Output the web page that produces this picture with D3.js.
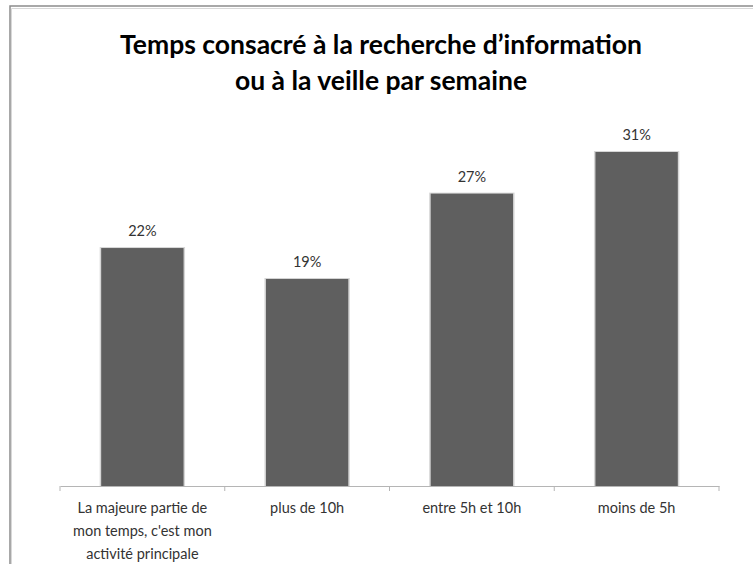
<!DOCTYPE html>
<html>
<head>
<meta charset="utf-8">
<script src="https://cdn.jsdelivr.net/npm/d3@7"></script>
<style>
  body { margin: 0; background: #fff; }
  text { font-family: Lato, "Open Sans", sans-serif; }
</style>
</head>
<body>
<script>
// data (labels are rounded percentages)
let categories = ["La majeure partie de mon temps, c'est mon activité principale", "plus de 10h", "entre 5h et 10h", "moins de 5h"];
let catLines = [["La majeure partie de", "mon temps, c'est mon", "activité principale"], ["plus de 10h"], ["entre 5h et 10h"], ["moins de 5h"]];
let values = [22.3, 19.4, 27.4, 31.3];
let titleLines = ["Temps consacré à la recherche d’information", "ou à la veille par semaine"];

let width = 753, height = 564;
let svg = d3.select("body").append("svg")
    .attr("width", width)
    .attr("height", height);

// frame of the chart area (cut on right and bottom)
svg.append("rect")
    .attr("x", 10).attr("y", 6)
    .attr("width", 800).attr("height", 700)
    .attr("fill", "#fff")
    .attr("stroke", "#8c8c8c")
    .attr("stroke-width", 1.5);
svg.append("path")
    .attr("d", "M11.5,8.5H760M11.5,8.5V600")
    .attr("stroke", "#d8d8d8")
    .attr("fill", "none");

// title
svg.selectAll(".title")
    .data(titleLines)
    .enter().append("text")
    .attr("class", "title")
    .attr("x", 381)
    .attr("y", function (d, i) { return 54 + i * 36; })
    .attr("text-anchor", "middle")
    .style("font-size", "26.5px")
    .style("font-weight", "bold")
    .style("fill", "#000")
    .text(function (d) { return d; });

let x = d3.scaleBand()
    .domain(categories)
    .range([60, 719])
    .paddingInner(0.5)
    .paddingOuter(0.25);

let y = d3.scaleLinear()
    .domain([0, 31.3])
    .range([486, 152]);

// bars with a soft edge
let bars = svg.selectAll(".bar")
    .data(values)
    .enter().append("g");
bars.append("rect")
    .attr("x", function (d, i) { return x(categories[i]) - 1.5; })
    .attr("y", function (d) { return y(d) - 1; })
    .attr("width", x.bandwidth() + 3)
    .attr("height", function (d) { return y(0) - y(d) + 1; })
    .attr("fill", "#d6d6d6");
bars.append("rect")
    .attr("class", "bar")
    .attr("x", function (d, i) { return x(categories[i]); })
    .attr("y", function (d) { return y(d); })
    .attr("width", x.bandwidth())
    .attr("height", function (d) { return y(0) - y(d); })
    .attr("fill", "#5f5f5f");

// value labels
svg.selectAll(".val")
    .data(values)
    .enter().append("text")
    .attr("class", "val")
    .attr("x", function (d, i) { return x(categories[i]) + x.bandwidth() / 2; })
    .attr("y", function (d) { return y(d) - 12; })
    .attr("text-anchor", "middle")
    .style("font-size", "14.5px")
    .style("fill", "#333")
    .text(function (d) { return Math.round(d) + "%"; });

// x axis
let axis = svg.append("g")
    .attr("transform", "translate(0," + y(0) + ")")
    .call(d3.axisBottom(x).tickSize(0).tickFormat(""));
axis.select(".domain").attr("stroke", "#b5b5b5").attr("stroke-width", 1.2);

let step = x.step();
let tickPos = d3.range(categories.length + 1).map(function (i) { return 60 + i * step; });
axis.selectAll(".sep")
    .data(tickPos)
    .enter().append("line")
    .attr("class", "sep")
    .attr("x1", function (d) { return d; })
    .attr("x2", function (d) { return d; })
    .attr("y1", 0).attr("y2", 5)
    .attr("stroke", "#b5b5b5");

// category labels
let catG = svg.selectAll(".cat")
    .data(catLines)
    .enter().append("text")
    .attr("class", "cat")
    .attr("x", function (d, i) { return x(categories[i]) + x.bandwidth() / 2; })
    .attr("y", 513)
    .attr("text-anchor", "middle")
    .style("font-size", "14.5px")
    .style("fill", "#333");
catG.selectAll("tspan")
    .data(function (d) { return d; })
    .enter().append("tspan")
    .attr("x", function () { return d3.select(this.parentNode).attr("x"); })
    .attr("dy", function (d, i) { return i === 0 ? 0 : 23; })
    .text(function (d) { return d; });
</script>
</body>
</html>
